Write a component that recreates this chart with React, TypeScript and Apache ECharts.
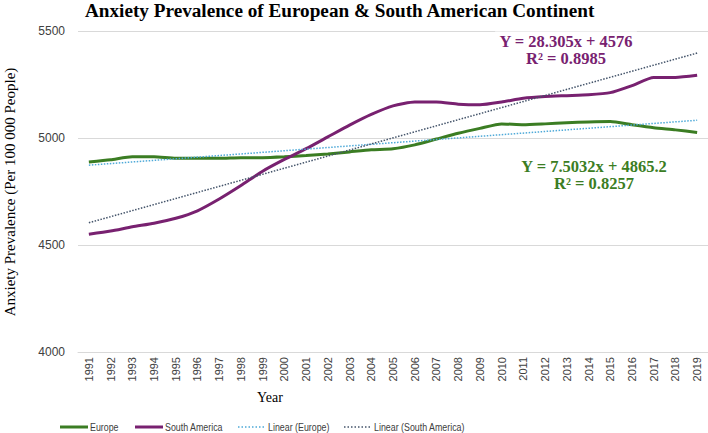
import React, { useEffect, useRef } from "react";
import * as echarts from "echarts";

const years = ["1991","1992","1993","1994","1995","1996","1997","1998","1999","2000","2001","2002","2003","2004","2005","2006","2007","2008","2009","2010","2011","2012","2013","2014","2015","2016","2017","2018","2019"];
const europe = [4888,4898,4912,4912,4905,4905,4905,4908,4908,4912,4918,4925,4935,4945,4950,4968,4995,5022,5045,5066,5062,5066,5071,5075,5077,5062,5048,5038,5026];
const southAmerica = [4550,4565,4585,4602,4625,4660,4715,4778,4845,4900,4950,5005,5060,5110,5150,5168,5168,5158,5155,5168,5186,5194,5198,5202,5212,5245,5283,5283,5293];
// trendline end points (first and last year)
const europeTrend = [4873, 5083];
const southAmericaTrend = [4604, 5397];
const yTicks = [4000, 4500, 5000, 5500];
const europeEq = ["Y = 7.5032x + 4865.2", "R² = 0.8257"];
const saEq = ["Y = 28.305x + 4576", "R² = 0.8985"];
const legendNames = ["Europe", "South America", "Linear (Europe)", "Linear (South America)"];

const GREEN = "#3b7d23";
const PURPLE = "#782170";
const LBLUE = "#4ea9d8";
const DSLATE = "#44546a";
const SERIF = "'Liberation Serif', 'Times New Roman', serif";
const SANS = "'Liberation Sans', Arial, sans-serif";

export default function App() {
  const ref = useRef<HTMLDivElement>(null);
  useEffect(() => {
    const chart = echarts.init(ref.current!, undefined, { renderer: "svg" });
    const last = years.length - 1;

    const legendItems = [
      { name: legendNames[0], x: 60, color: GREEN, width: 3, dash: null },
      { name: legendNames[1], x: 135, color: PURPLE, width: 3, dash: null },
      { name: legendNames[2], x: 238, color: LBLUE, width: 1.3, dash: [1.5, 2] },
      { name: legendNames[3], x: 344, color: DSLATE, width: 1.3, dash: [1.5, 2] },
    ];
    const legendGraphics: any[] = [];
    legendItems.forEach((it) => {
      legendGraphics.push({
        type: "line",
        shape: { x1: it.x, y1: 427, x2: it.x + 28, y2: 427 },
        style: { stroke: it.color, lineWidth: it.width, lineDash: it.dash || undefined },
      });
      legendGraphics.push({
        type: "text",
        x: it.x + 30,
        y: 427,
        scaleX: 0.77,
        style: {
          text: it.name,
          fontFamily: SANS,
          fontSize: 11.5,
          fill: "#404040",
          align: "left",
          verticalAlign: "middle",
        },
      });
    });

    chart.setOption({
      animation: false,
      backgroundColor: "#ffffff",
      title: {
        text: "Anxiety Prevalence of European & South American Continent",
        left: 80,
        top: -4,
        textStyle: { fontFamily: SERIF, fontWeight: "bold", fontSize: 19.2, color: "#000" },
      },
      grid: { left: 78, right: 0, top: 31, bottom: 81 },
      xAxis: {
        type: "category",
        data: years,
        boundaryGap: true,
        axisLine: { lineStyle: { color: "#d9d9d9" } },
        axisTick: { show: false },
        axisLabel: { rotate: 90, fontSize: 11, color: "#404040", fontFamily: SANS, margin: 5, interval: 0 },
      },
      yAxis: {
        type: "value",
        min: yTicks[0],
        max: yTicks[yTicks.length - 1],
        interval: 500,
        axisLine: { show: false },
        axisTick: { show: false },
        axisLabel: {
          fontSize: 12,
          color: "#404040",
          fontFamily: SANS,
          margin: 13,
          formatter: (v: number) => String(v),
        },
        splitLine: { lineStyle: { color: "#d9d9d9", width: 1 } },
      },
      series: [
        {
          name: "Linear (Europe)",
          type: "line",
          symbol: "none",
          data: [[years[0], europeTrend[0]], [years[last], europeTrend[1]]],
          lineStyle: { color: LBLUE, width: 1.5, type: "dotted" },
          itemStyle: { color: LBLUE },
          z: 3,
        },
        {
          name: "Linear (South America)",
          type: "line",
          symbol: "none",
          data: [[years[0], southAmericaTrend[0]], [years[last], southAmericaTrend[1]]],
          lineStyle: { color: DSLATE, width: 1.5, type: "dotted" },
          itemStyle: { color: DSLATE },
          z: 3,
        },
        {
          name: "Europe",
          type: "line",
          symbol: "none",
          smooth: 0.2,
          data: europe,
          lineStyle: { color: GREEN, width: 3 },
          itemStyle: { color: GREEN },
          z: 2,
        },
        {
          name: "South America",
          type: "line",
          symbol: "none",
          smooth: 0.2,
          data: southAmerica,
          lineStyle: { color: PURPLE, width: 3 },
          itemStyle: { color: PURPLE },
          z: 2,
        },
      ],
      graphic: [
        {
          type: "text",
          x: 10,
          y: 192,
          rotation: Math.PI / 2,
          style: {
            text: "Anxiety Prevalence (Per 100 000 People)",
            fontFamily: SERIF,
            fontSize: 15,
            fill: "#000",
            align: "center",
            verticalAlign: "middle",
          },
        },
        {
          type: "text",
          x: 270,
          y: 397,
          style: {
            text: "Year",
            fontFamily: SERIF,
            fontSize: 14,
            fill: "#000",
            align: "center",
            verticalAlign: "middle",
          },
        },
        {
          type: "text",
          x: 566,
          y: 50,
          z: 10,
          style: {
            text: saEq.join("\n"),
            fontFamily: SERIF,
            fontWeight: "bold",
            fontSize: 16.5,
            lineHeight: 17.5,
            fill: PURPLE,
            align: "center",
            verticalAlign: "middle",
            backgroundColor: "#ffffff",
            padding: [1, 4],
          },
        },
        {
          type: "text",
          x: 594,
          y: 175,
          z: 10,
          style: {
            text: europeEq.join("\n"),
            fontFamily: SERIF,
            fontWeight: "bold",
            fontSize: 16.5,
            lineHeight: 17.5,
            fill: GREEN,
            align: "center",
            verticalAlign: "middle",
          },
        },
        ...legendGraphics,
      ],
    });
    return () => chart.dispose();
  }, []);
  return <div ref={ref} style={{ width: 708, height: 433, position: "absolute", left: 0, top: 0 }} />;
}
